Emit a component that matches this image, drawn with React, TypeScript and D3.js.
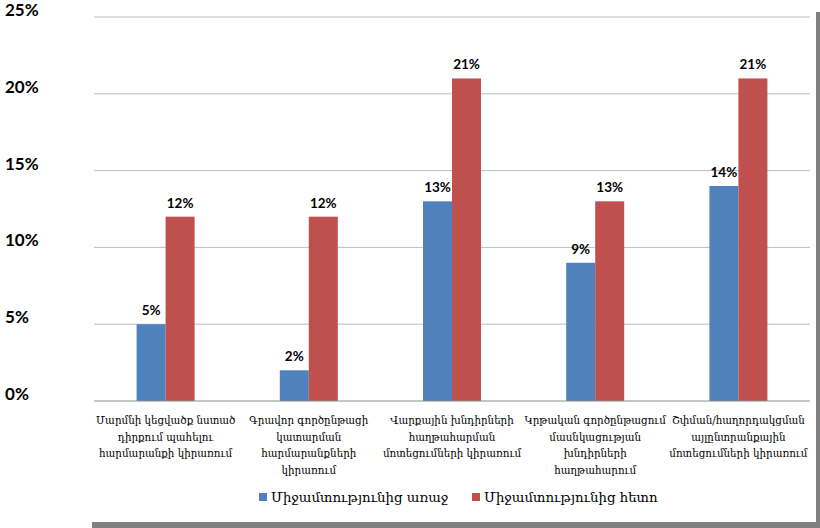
import * as d3 from "d3";

const categories = [
  ["Մարմնի կեցվածք նստած", "դիրքում պահելու", "հարմարանքի կիրառում"],
  ["Գրավոր գործընթացի", "կատարման", "հարմարանքների", "կիրառում"],
  ["Վարքային խնդիրների", "հաղթահարման", "մոտեցումների կիրառում"],
  ["Կրթական գործընթացում", "մասնկացության", "խնդիրների", "հաղթահարում"],
  ["Շփման/հաղորդակցման", "այլընտրանքային", "մոտեցումների կիրառում"],
];
const seriesNames = ["Միջամտությունից առաջ", "Միջամտությունից հետո"];
const before = [5, 2, 13, 9, 14];
const after = [12, 12, 21, 13, 21];
const yTicks = [0, 5, 10, 15, 20, 25];
const colors = ["#4f81bd", "#c0504d"];

const W = 820;
const H = 528;
const plot = { left: 94, right: 810, top: 17, bottom: 401 };

export default function App() {
  const idx = categories.map((_, i) => String(i));
  const x = d3.scaleBand<string>().domain(idx).range([plot.left, plot.right]);
  const y = d3.scaleLinear().domain([0, 25]).range([plot.bottom, plot.top]);
  const barW = 29;
  const values = [before, after];

  return (
    <svg width={W} height={H} style={{ position: "absolute", left: 0, top: 0 }}>
      <rect width={W} height={H} fill="#fff" />
      {/* frame shadow */}
      <rect x={816} y={12} width={4} height={H - 12} fill="#808080" />
      <rect x={92} y={522} width={W - 92} height={6} fill="#808080" />

      {yTicks.map((t) => (
        <g key={t}>
          {t > 0 && (
            <line x1={plot.left} x2={plot.right} y1={y(t)} y2={y(t)} stroke="#bdbdbd" strokeWidth={1} />
          )}
          <text
            x={5}
            y={y(t) - 1}
            fontFamily="Lato, 'Open Sans', sans-serif"
            fontWeight="bold"
            fontSize={17}
            fill="#000"
          >
            {t}%
          </text>
        </g>
      ))}

      {categories.map((_, i) => {
        const cx = (x(String(i)) ?? 0) + x.bandwidth() / 2;
        return values.map((vals, s) => {
          const bx = cx - barW + s * barW;
          const v = vals[i];
          return (
            <g key={`${i}-${s}`}>
              <rect x={bx} y={y(v)} width={barW} height={y(0) - y(v)} fill={colors[s]} />
              <text
                x={bx + barW / 2}
                y={y(v) - 9}
                textAnchor="middle"
                fontFamily="Lato, 'Open Sans', sans-serif"
                fontWeight="bold"
                fontSize={13.5}
                fill="#000"
              >
                {v}%
              </text>
            </g>
          );
        });
      })}

      <line x1={plot.left} x2={plot.right} y1={y(0)} y2={y(0)} stroke="#8c8c8c" strokeWidth={1} />

      {categories.map((lines, i) => {
        const cx = (x(String(i)) ?? 0) + x.bandwidth() / 2;
        return (
          <text
            key={i}
            x={cx}
            y={424}
            textAnchor="middle"
            fontFamily="'DejaVu Serif', 'DejaVu Sans', serif"
            fontSize={10.3}
            fill="#000"
          >
            {lines.map((l, k) => (
              <tspan key={k} x={cx} dy={k === 0 ? 0 : 16.5}>
                {l}
              </tspan>
            ))}
          </text>
        );
      })}

      {seriesNames.map((name, s) => {
        const lx = [259, 472][s];
        return (
          <g key={name}>
            <rect x={lx} y={493} width={8} height={8} fill={colors[s]} />
            <text
              x={lx + 12}
              y={502}
              fontFamily="'DejaVu Serif', 'DejaVu Sans', serif"
              fontSize={13.3}
              fill="#000"
            >
              {name}
            </text>
          </g>
        );
      })}
    </svg>
  );
}
